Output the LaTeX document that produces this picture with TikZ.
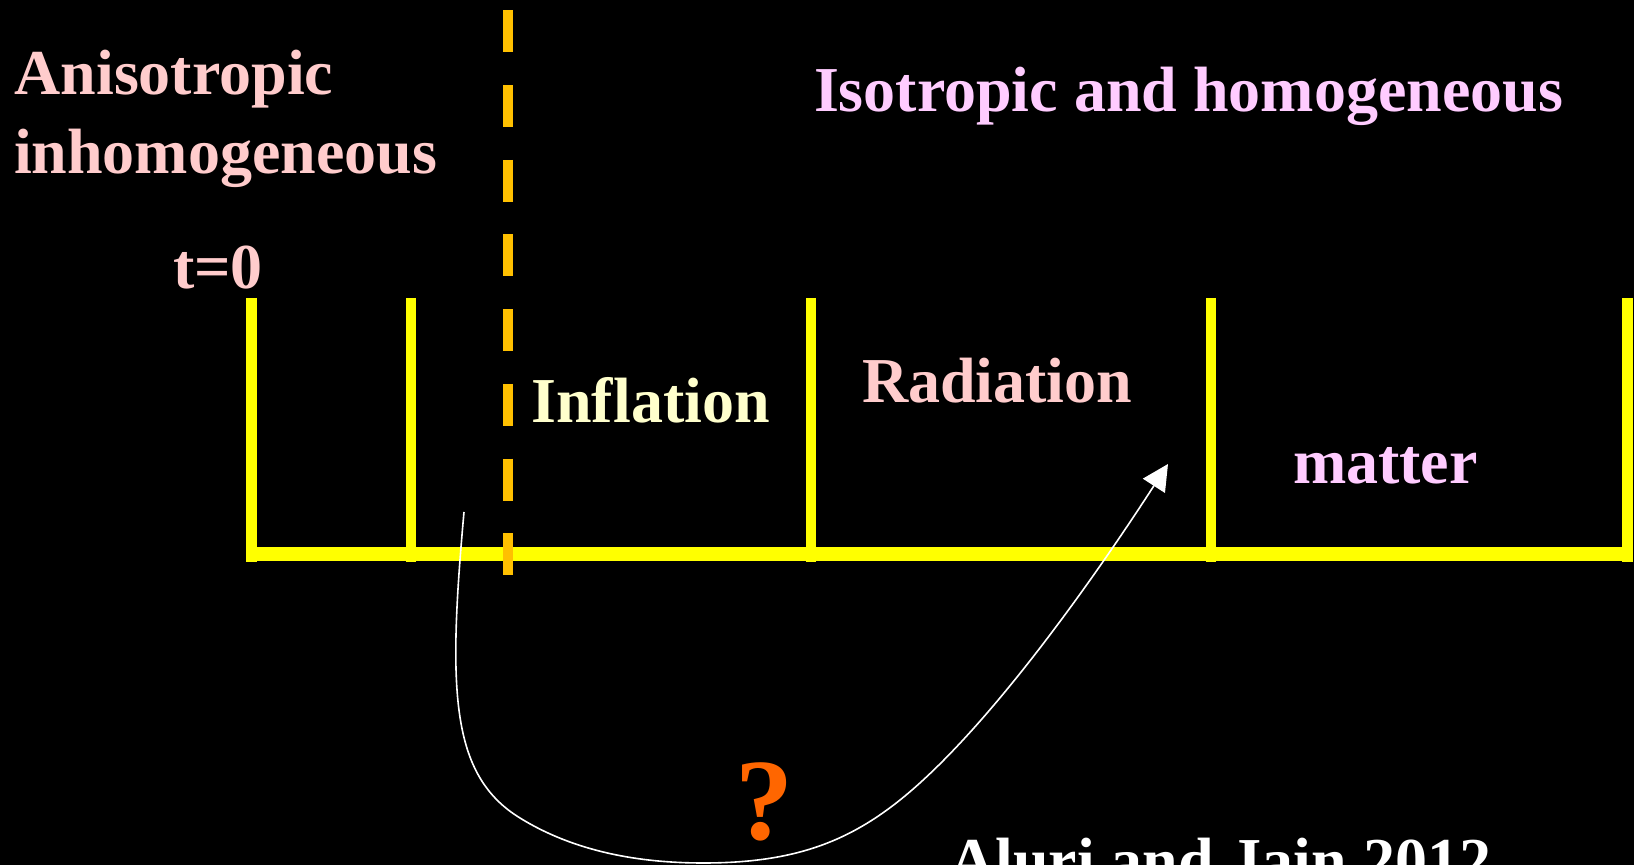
\documentclass[tikz,border=0pt]{standalone}
\usepackage{fontspec}
\setmainfont{Liberation Serif}
\usetikzlibrary{arrows.meta}
\definecolor{pinkA}{HTML}{FFCCCC}
\definecolor{lilac}{HTML}{FFCCFF}
\definecolor{creamY}{HTML}{FFFFCC}
\definecolor{qorange}{HTML}{FF6600}
\definecolor{barY}{HTML}{FFFF00}
\definecolor{dashO}{HTML}{FFC000}
\tikzset{
  lbl/.style={anchor=base west, inner sep=0pt, outer sep=0pt, font=\fontsize{32pt}{38pt}\selectfont\bfseries},
  bigq/.style={anchor=base west, inner sep=0pt, outer sep=0pt, font=\fontsize{58pt}{64pt}\selectfont\bfseries, text=qorange},
  hbar/.style={draw=barY, line width=7pt},
  vbar/.style={draw=barY, line width=5.3pt},
  era/.style={draw=dashO, line width=5pt, dash pattern=on 21pt off 16.35pt},
  curve/.style={draw=white, line width=0.8pt, -{Triangle[length=13pt,width=13pt]}}
}
\begin{document}
\begin{tikzpicture}[x=0.5pt,y=-0.5pt]
  \fill[black] (0,0) rectangle (1634,865);
  \useasboundingbox (0,0) rectangle (1634,865);

  % time axis
  \coordinate (h0) at (246,554);
  \coordinate (h1) at (1633,554);
  \draw[hbar] (h0) -- (h1);
  \foreach \i/\x in {1/251.5,2/411,3/811,4/1211,5/1627.5}{
    \coordinate (vt\i) at (\x,298);
    \coordinate (vb\i) at (\x,562);
    \draw[vbar] (vt\i) -- (vb\i);
  }

  % dashed boundary
  \coordinate (d0) at (508,10.4);
  \coordinate (d1) at (508,575.3);
  \draw[era] (d0) -- (d1);

  % labels
  \node[lbl, text=pinkA] (aniso) at (14.5,95) {Anisotropic};
  \node[lbl, text=pinkA] (inhomo) at (14,174) {inhomogeneous};
  \node[lbl, text=pinkA] (tzero) at (173,289) {t=0};
  \node[lbl, text=lilac] (iso) at (814,111.5) {Isotropic and homogeneous};
  \node[lbl, text=creamY] (infl) at (531.5,423) {Inflation};
  \node[lbl, text=pinkA] (rad) at (862,403) {Radiation};
  \node[lbl, text=lilac] (matt) at (1293,483.5) {matter};
  \node[bigq] (q) at (735,839) {?};
  \node[lbl, text=white] (ref) at (949,882) {Aluri and Jain 2012};

  % curved arrow
  \coordinate (cs) at (464,512);
  \coordinate (ce) at (1168,464);
  \draw[curve] (cs) .. controls (448,690) and (450,775) .. (520,818)
               .. controls (575,852) and (640,863) .. (703,863)
               .. controls (790,863) and (845,844) .. (900,800)
               .. controls (980,736) and (1080,600) .. (ce);
\end{tikzpicture}
\end{document}
